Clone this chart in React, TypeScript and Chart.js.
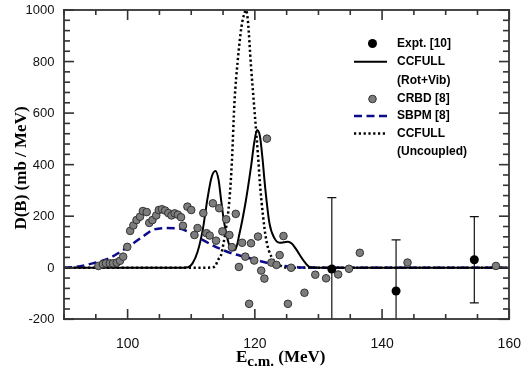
import React, { useEffect, useRef } from "react";
import { Chart, registerables } from "chart.js";
Chart.register(...registerables);

// ---- Data ----
const exptX = [132.1, 142.2, 154.5];
const exptY = [-5, -90, 31];
const exptErr = [277, 198, 167];

const crbdX = [
  95.4, 96.1, 96.6, 97.2, 97.7, 98.3, 98.8, 99.3, 99.95, 100.4, 100.9, 101.4, 101.95, 102.4, 103.0,
  103.4, 103.9, 104.5, 104.9, 105.4, 105.9, 106.4, 106.9, 107.4, 107.9, 108.4, 108.7, 109.4, 110.0,
  110.5, 111.0, 111.9, 112.4, 112.9, 113.4, 113.9, 114.4, 114.9, 115.5, 116.0, 116.4, 117.0, 117.5,
  118.0, 118.5, 119.1, 119.4, 119.9, 120.5, 121.0, 121.5, 121.9, 122.6, 123.4, 123.9, 124.5, 125.2,
  125.7, 127.8, 129.5, 131.2, 133.1, 134.8, 136.5, 144.0, 157.9,
];
const crbdY = [
  7, 14, 17, 17, 17, 20, 27, 43, 81, 143, 164, 185, 198, 220, 216,
  174, 185, 203, 224, 227, 222, 212, 203, 211, 206, 196, 163, 237, 224,
  127, 154, 212, 134, 125, 250, 105, 231, 141, 188, 127, 80, 209, 3,
  97, 43, -140, 95, 28, 121, -11, -42, 501, 20, 11, 49, 123, -140,
  0, -97, -27, -41, -26, -4, 58, 20, 7,
];

const ccRotX = [
  90, 108, 109.5, 110.2, 111.0, 111.8, 112.6, 113.2, 113.8, 114.3, 114.7, 115.1, 115.5, 115.9, 116.4,
  116.9, 117.6, 118.6, 119.4, 119.9, 120.35, 120.8, 121.2, 121.6, 122.3, 123.1, 123.9, 124.6, 125.2,
  125.8, 126.4, 127.6, 128.6, 130, 160,
];
const ccRotY = [
  0, 0, 2, 17, 62, 146, 275, 351, 375, 341, 262, 188, 134, 94, 67,
  69, 134, 262, 392, 485, 534, 510, 425, 317, 172, 114, 97, 99, 101,
  94, 75, 30, 3, 0, 0,
];

const ccUncX = [
  90, 112, 113.7, 114.2, 114.7, 115.0, 115.5, 116.0, 116.4, 116.8, 117.3, 117.9, 118.4, 118.6, 118.9,
  119.4, 119.9, 120.5, 120.8, 121.3, 121.8, 122.6, 123.9, 125, 160,
];
const ccUncY = [
  0, 0, 4, 30, 50, 85, 158, 262, 415, 643, 801, 935, 990, 1000, 960,
  781, 623, 435, 327, 198, 107, 43, 10, 0, 0,
];

const sbpmX = [90, 92, 94.5, 97.1, 99.7, 102.4, 103.9, 106, 108.1, 110.2, 112.3, 114.4, 116.5, 118.6, 120.5, 122.8, 125.5, 129.7, 135, 160];
const sbpmY = [0, 4, 17, 37, 75, 121, 146, 154, 152, 131, 101, 75, 55, 41, 28, 14, 4, 0, 0, 0];

const xTickLabels = [100, 120, 140, 160];
const yTickLabels = [-200, 0, 200, 400, 600, 800, 1000];
const xRange = [90, 160];
const yRange = [-200, 1000];
const xMinorStep = 5;
const yMinorStep = 40;

const legendItems = [
  { kind: "expt", lines: ["Expt. [10]"] },
  { kind: "solid", lines: ["CCFULL", "(Rot+Vib)"] },
  { kind: "crbd", lines: ["CRBD [8]"] },
  { kind: "dash", lines: ["SBPM [8]"] },
  { kind: "dot", lines: ["CCFULL", "(Uncoupled)"] },
];

const toPts = (xs: number[], ys: number[]) => xs.map((x, i) => ({ x, y: ys[i] }));

const SANS = "'Liberation Sans', Arial, sans-serif";
const SERIF = "'Liberation Serif', 'Times New Roman', serif";
const NAVY = "#0a0a8a";
const GREY_FILL = "#7d7d7d";
const GREY_EDGE = "#333333";
const AXIS = "#333333";

const errorBarPlugin = {
  id: "errbars",
  beforeDatasetsDraw(chart: any) {
    const ctx: CanvasRenderingContext2D = chart.ctx;
    const a = chart.chartArea;
    const xs = chart.scales.x, ys = chart.scales.y;
    ctx.save();
    ctx.beginPath();
    ctx.rect(a.left, a.top, a.right - a.left, a.bottom - a.top);
    ctx.clip();
    ctx.setLineDash([]);
    ctx.strokeStyle = "#111";
    ctx.lineWidth = 1.2;
    exptX.forEach((xv, i) => {
      const px = xs.getPixelForValue(xv);
      const top = ys.getPixelForValue(exptY[i] + exptErr[i]);
      const bot = ys.getPixelForValue(exptY[i] - exptErr[i]);
      ctx.beginPath();
      ctx.moveTo(px, top);
      ctx.lineTo(px, bot);
      ctx.moveTo(px - 4.5, top);
      ctx.lineTo(px + 4.5, top);
      ctx.moveTo(px - 4.5, bot);
      ctx.lineTo(px + 4.5, bot);
      ctx.stroke();
    });
    ctx.restore();
  },
};

const axesPlugin = {
  id: "axesframe",
  afterDraw(chart: any) {
    const ctx: CanvasRenderingContext2D = chart.ctx;
    const a = chart.chartArea;
    const xs = chart.scales.x, ys = chart.scales.y;
    const L0 = Math.round(a.left), R0 = Math.round(a.right);
    const T0 = Math.round(a.top), B0 = Math.round(a.bottom);
    ctx.save();
    ctx.globalAlpha = 1;
    ctx.globalCompositeOperation = "source-over";
    ctx.fillStyle = AXIS;
    const w = 1.6;
    for (let v = xRange[0]; v <= xRange[1] + 1e-9; v += xMinorStep) {
      const px = xs.getPixelForValue(v);
      const L = v % 20 === 0 ? 10 : 5;
      ctx.fillRect(px - w / 2, B0 - L, w, L);
      ctx.fillRect(px - w / 2, T0, w, L);
    }
    for (let v = yRange[0]; v <= yRange[1] + 1e-9; v += yMinorStep) {
      const py = ys.getPixelForValue(v);
      const L = v % 200 === 0 ? 10 : 6;
      ctx.fillRect(L0, py - w / 2, L, w);
      ctx.fillRect(R0 - L, py - w / 2, L, w);
    }
    // frame
    const fw = 1.8;
    ctx.fillRect(L0 - fw / 2, T0 - fw / 2, R0 - L0 + fw, fw);
    ctx.fillRect(L0 - fw / 2, B0 - fw / 2, R0 - L0 + fw, fw);
    ctx.fillRect(L0 - fw / 2, T0 - fw / 2, fw, B0 - T0 + fw);
    ctx.fillRect(R0 - fw / 2, T0 - fw / 2, fw, B0 - T0 + fw);
    ctx.restore();
  },
};

const textPlugin = {
  id: "texts",
  afterDraw(chart: any) {
    const ctx: CanvasRenderingContext2D = chart.ctx;
    const xs = chart.scales.x, ys = chart.scales.y;
    ctx.save();
    // tick labels
    ctx.fillStyle = "#111";
    ctx.font = `13px ${SANS}`;
    ctx.textAlign = "right";
    ctx.textBaseline = "middle";
    yTickLabels.forEach((v) => ctx.fillText(String(v), 54.5, ys.getPixelForValue(v) + 0.5));
    ctx.font = `14px ${SANS}`;
    ctx.textAlign = "center";
    xTickLabels.forEach((v) => ctx.fillText(String(v), xs.getPixelForValue(v), 344));

    // axis titles
    ctx.fillStyle = "#000";
    ctx.save();
    ctx.translate(22, 168);
    ctx.rotate(-Math.PI / 2);
    ctx.font = `bold 17px ${SERIF}`;
    ctx.textAlign = "center";
    ctx.textBaseline = "middle";
    ctx.fillText("D(B) (mb / MeV)", 0, 0);
    ctx.restore();

    ctx.textAlign = "left";
    ctx.textBaseline = "alphabetic";
    let x0 = 236;
    const base = 362;
    ctx.font = `bold 17px ${SERIF}`;
    ctx.fillText("E", x0, base);
    x0 += ctx.measureText("E").width;
    ctx.font = `bold 15px ${SERIF}`;
    ctx.fillText("c.m.", x0, base + 3.5);
    x0 += ctx.measureText("c.m.").width;
    ctx.font = `bold 17px ${SERIF}`;
    ctx.fillText(" (MeV)", x0, base);

    // legend
    const symX = 372.5, lineL = 354, lineR = 387, textX = 397;
    const rowYs = [43.5, 61.7, 99, 116, 133.5];
    const lineH = 18.5;
    ctx.font = `bold 12px ${SANS}`;
    ctx.textBaseline = "middle";
    legendItems.forEach((it, i) => {
      const y = rowYs[i];
      ctx.save();
      if (it.kind === "expt") {
        ctx.fillStyle = "#000";
        ctx.beginPath();
        ctx.arc(symX, y, 4.5, 0, Math.PI * 2);
        ctx.fill();
      } else if (it.kind === "crbd") {
        ctx.fillStyle = GREY_FILL;
        ctx.strokeStyle = GREY_EDGE;
        ctx.lineWidth = 1;
        ctx.beginPath();
        ctx.arc(symX, y, 3.8, 0, Math.PI * 2);
        ctx.fill();
        ctx.stroke();
      } else {
        if (it.kind === "solid") {
          ctx.strokeStyle = "#000";
          ctx.lineWidth = 2;
        } else if (it.kind === "dash") {
          ctx.strokeStyle = NAVY;
          ctx.lineWidth = 2.5;
          ctx.setLineDash([8, 4.5]);
        } else {
          ctx.strokeStyle = "#000";
          ctx.lineWidth = 2.5;
          ctx.setLineDash([2.2, 2.6]);
        }
        ctx.beginPath();
        ctx.moveTo(lineL, y);
        ctx.lineTo(lineR, y);
        ctx.stroke();
      }
      ctx.restore();
      ctx.fillStyle = "#000";
      it.lines.forEach((t, j) => ctx.fillText(t, textX, y + j * lineH));
    });
    ctx.restore();
  },
};

export default function App() {
  const ref = useRef<HTMLCanvasElement | null>(null);
  useEffect(() => {
    if (!ref.current) return;
    const chart = new Chart(ref.current, {
      type: "scatter",
      data: {
        datasets: [
          {
            label: "Expt. [10]",
            data: toPts(exptX, exptY),
            pointRadius: 4.5,
            pointBackgroundColor: "#000",
            pointBorderColor: "#000",
            pointBorderWidth: 0,
            showLine: false,
          },
          {
            label: "CRBD [8]",
            data: toPts(crbdX, crbdY),
            pointRadius: 3.8,
            pointBackgroundColor: GREY_FILL,
            pointBorderColor: GREY_EDGE,
            pointBorderWidth: 1,
            showLine: false,
          },
          {
            label: "CCFULL (Rot+Vib)",
            data: toPts(ccRotX, ccRotY),
            showLine: true,
            borderColor: "#000",
            borderWidth: 2,
            pointRadius: 0,
            cubicInterpolationMode: "monotone",
          },
          {
            label: "SBPM [8]",
            data: toPts(sbpmX, sbpmY),
            showLine: true,
            borderColor: NAVY,
            borderWidth: 2.5,
            borderDash: [8, 4.5],
            pointRadius: 0,
            cubicInterpolationMode: "monotone",
          },
          {
            label: "CCFULL (Uncoupled)",
            data: toPts(ccUncX, ccUncY),
            showLine: true,
            borderColor: "#000",
            borderWidth: 2.5,
            borderDash: [2.2, 2.6],
            pointRadius: 0,
            cubicInterpolationMode: "monotone",
          },
        ],
      } as any,
      options: {
        animation: false,
        responsive: false,
        devicePixelRatio: 1,
        layout: { padding: { left: 0, top: 10, right: 12.7, bottom: 0 } },
        plugins: { legend: { display: false }, tooltip: { enabled: false } },
        events: [],
        scales: {
          x: {
            type: "linear",
            min: xRange[0],
            max: xRange[1],
            grid: { display: false },
            border: { display: false },
            ticks: { display: false },
            afterFit: (s: any) => {
              s.height = 48.7;
            },
          },
          y: {
            type: "linear",
            min: yRange[0],
            max: yRange[1],
            grid: { display: false },
            border: { display: false },
            ticks: { display: false },
            afterFit: (s: any) => {
              s.width = 64;
            },
          },
        },
      } as any,
      plugins: [errorBarPlugin, axesPlugin, textPlugin],
    });
    return () => chart.destroy();
  }, []);
  return (
    <div style={{ position: "fixed", left: 0, top: 0, width: 522, height: 368, background: "#fff" }}>
      <canvas ref={ref} width={522} height={368} style={{ width: 522, height: 368, display: "block" }} />
    </div>
  );
}
